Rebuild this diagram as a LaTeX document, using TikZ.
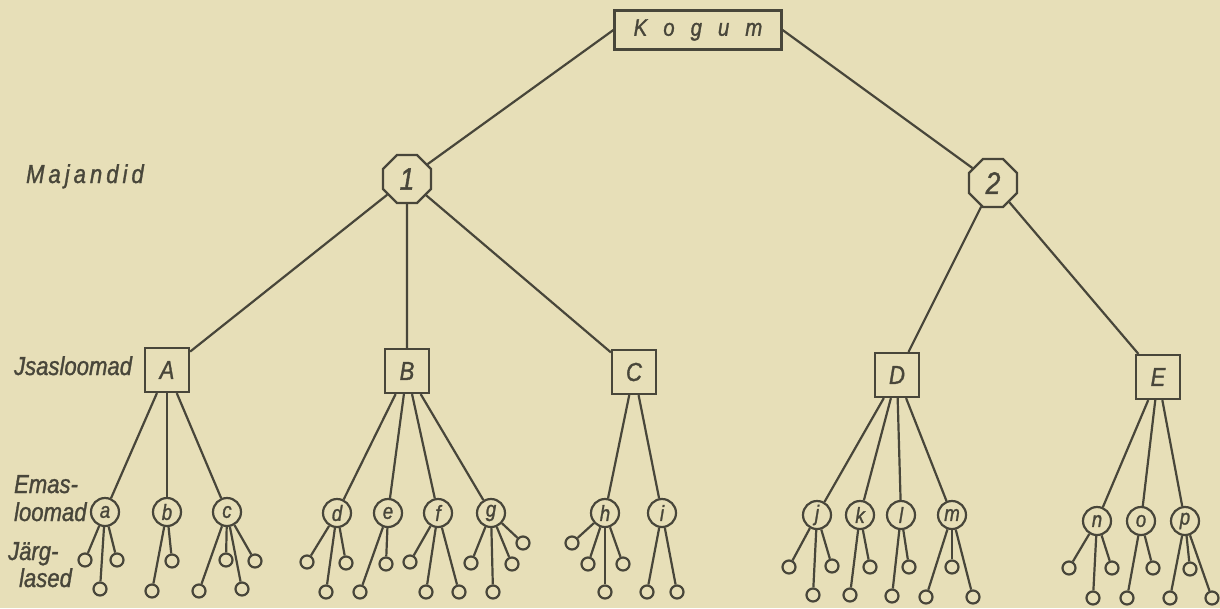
\documentclass[tikz,border=0pt]{standalone}
\usepackage{fontspec}
\usetikzlibrary{shapes.geometric}
\newfontfamily\lab[FakeStretch=0.85,FakeBold=1.2]{Liberation Sans}
\definecolor{paper}{RGB}{231,223,184}
\definecolor{ink}{RGB}{72,70,58}
\newcommand\fs[1]{\lab\itshape\fontsize{#1}{#1}\selectfont}

\begin{document}
\begin{tikzpicture}[x=1pt,y=-1pt,line width=2.2pt,color=ink,
  topbox/.style={draw,rectangle,minimum width=167pt,minimum height=39pt,inner sep=0pt,font=\fs{24}},
  herd/.style={draw,regular polygon,regular polygon sides=8,minimum size=52pt,inner sep=0pt,font=\fs{31}},
  grp/.style={draw,rectangle,minimum size=44pt,inner sep=0pt,font=\fs{26}},
  dam/.style={draw,circle,minimum size=28pt,inner sep=0pt,font=\fs{22}},
  kid/.style={draw,circle,minimum size=13pt,inner sep=0pt},
  lbl/.style={anchor=base west,inner sep=0pt,font=\fs{26}}]

% paper
\fill[paper] (0,0) rectangle (1220,608);
\useasboundingbox (0,0) rectangle (1220,608);

% row labels
\node[lbl] (lmaj) at (25,183) {M\kern4pt a\kern4pt j\kern4pt a\kern4pt n\kern4pt d\kern4pt i\kern4pt d};
\node[lbl] (lisa) at (13,375) {Jsasloomad};
\node[lbl] (lema) at (13,493) {Emas-};
\node[lbl] (lloo) at (13,521) {loomad};
\node[lbl] (ljar) at (7,560) {Järg-};
\node[lbl] (llas) at (18,587) {lased};

% top of the tree
\node[topbox] (kogum) at (698,30) {K\hspace{16pt}o\hspace{16pt}g\hspace{16pt}u\hspace{16pt}m};
\node[herd] (h1) at (407,179) {1};
\node[herd] (h2) at (993,183) {2};
\draw (kogum.west) -- (h1);
\draw (kogum.east) -- (h2);

% sires
\node[grp] (A) at (167,370) {A};
\node[grp] (B) at (407,371) {B};
\node[grp] (C) at (634,372) {C};
\node[grp] (D) at (897,375) {D};
\node[grp] (E) at (1158,377) {E};
\foreach \s in {A,B,C} \draw (h1) -- (\s);
\foreach \s in {D,E} \draw (h2) -- (\s);

% dams
\foreach \d/\x/\y/\s in {a/105/512/A, b/167/512/A, c/227/512/A,
    d/337/513/B, e/388/513/B, f/438/513/B, g/491/513/B,
    h/605/513/C, i/662/513/C,
    j/817/515/D, k/860/515/D, l/901/515/D, m/952/515/D,
    n/1097/521/E, o/1141/521/E, p/1185/521/E}{
  \node[dam] (\d) at (\x,\y) {\d};
  \draw (\s) -- (\d);
}

% offspring
\foreach \d/\n/\x/\y in {
    a/1/85/560, a/2/117/560, a/3/100/589,
    b/1/152/591, b/2/172/561,
    c/1/199/591, c/2/226/560, c/3/255/561, c/4/242/589,
    d/1/307/562, d/2/326/592, d/3/346/563,
    e/1/360/592, e/2/386/564,
    f/1/410/562, f/2/426/592, f/3/459/592,
    g/1/471/563, g/2/493/592, g/3/512/564, g/4/523/543,
    h/1/572/543, h/2/588/564, h/3/605/592, h/4/623/564,
    i/1/647/592, i/2/677/592,
    j/1/789/567, j/2/813/595, j/3/832/566,
    k/1/850/595, k/2/870/567,
    l/1/892/596, l/2/909/567,
    m/1/926/597, m/2/952/567, m/3/973/597,
    n/1/1069/568, n/2/1093/598, n/3/1112/568,
    o/1/1127/598, o/2/1153/568,
    p/1/1170/598, p/2/1190/569, p/3/1212/598}{
  \node[kid] (\d\n) at (\x,\y) {};
  \draw (\d) -- (\d\n);
}
\end{tikzpicture}
\end{document}
